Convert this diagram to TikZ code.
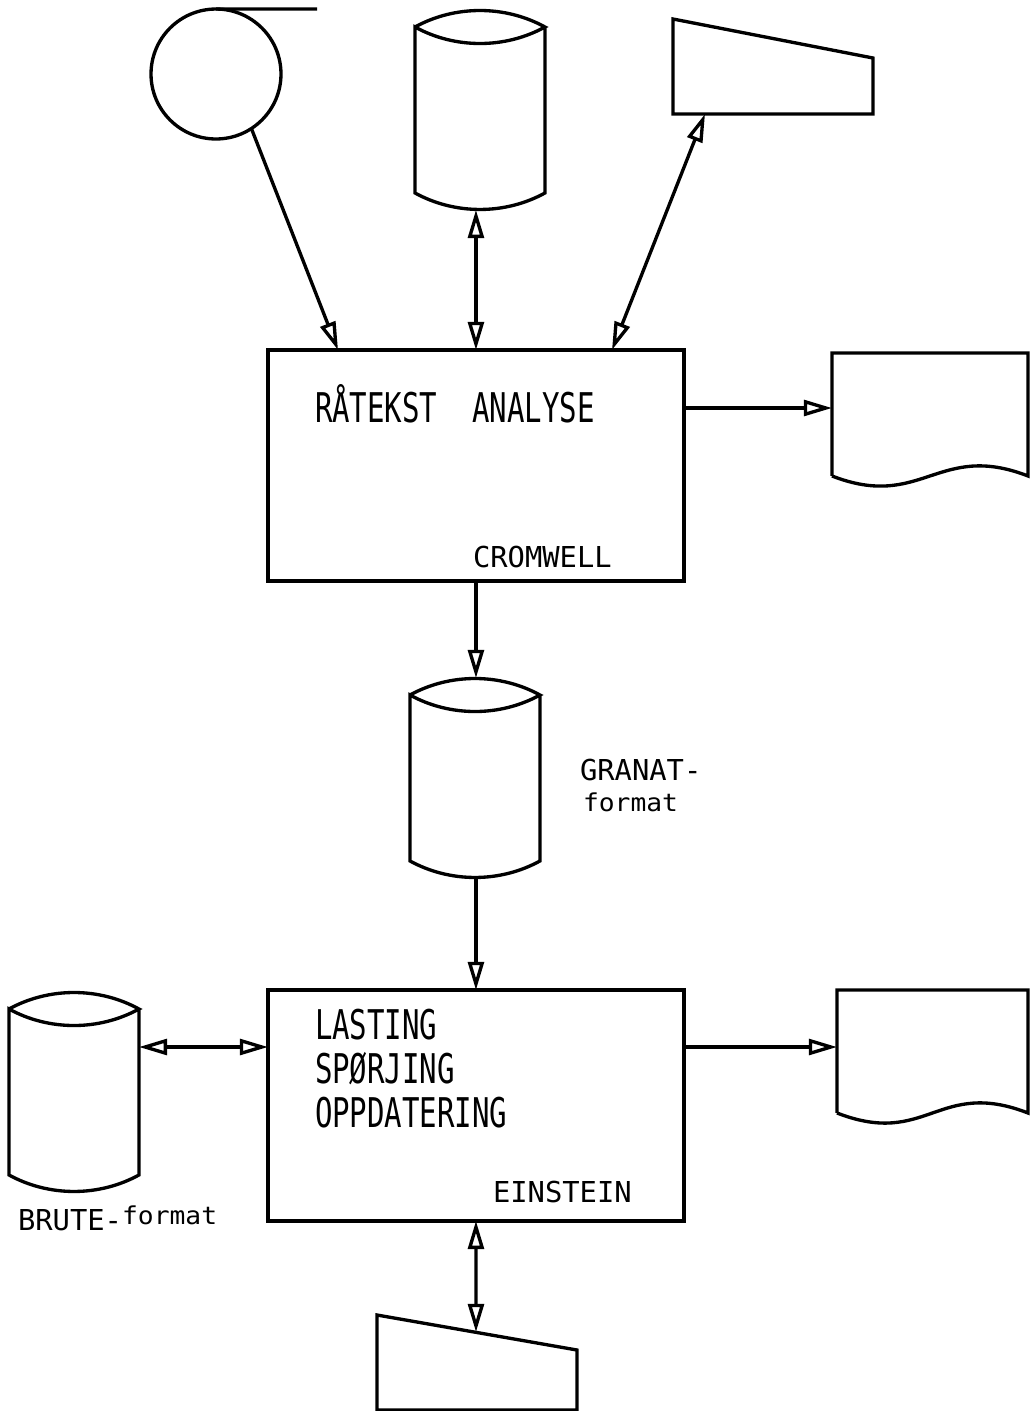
\documentclass[tikz,border=0pt]{standalone}
\usepackage{fontspec}
\usetikzlibrary{arrows.meta,calc}
\newfontfamily\printfont{DejaVu Sans Mono}
\newfontfamily\printfontnarrow[FakeStretch=0.71]{DejaVu Sans Mono}
\newfontfamily\printfontwide[FakeStretch=1.07]{DejaVu Sans Mono}

\newcommand\drawdisk[1]{%
  \draw ($(#1.north west)+(0,17)$) .. controls +(40,-22) and +(-40,-22) .. ($(#1.north east)+(0,17)$)
        .. controls +(-40,22) and +(40,22) .. ($(#1.north west)+(0,17)$)
        -- ($(#1.south west)+(0,-17)$) .. controls +(40,22) and +(-40,22) .. ($(#1.south east)+(0,-17)$)
        -- ($(#1.north east)+(0,17)$);}
\newcommand\drawterminal[2]{%
  \draw (#1.north west) -- ($(#1.north east)+(0,#2)$) -- (#1.south east) -- (#1.south west) -- cycle;}
\newcommand\drawdocument[1]{%
  \draw (#1.south west) -- (#1.north west) -- (#1.north east) -- (#1.south east)
        .. controls +(-90,-35) and +(90,35) .. (#1.south west);}

\begin{document}
\begin{tikzpicture}[
   x=0.02cm, y=-0.02cm,
   line width=1.9pt,
   >={Triangle[open,length=16pt,width=9pt]},
   every node/.style={inner sep=0pt, outer sep=0pt},
   program/.style={draw, minimum width=8.32cm, minimum height=4.62cm, anchor=north west},
   disk/.style={minimum width=2.6cm, minimum height=4cm, anchor=north west},
   terminal/.style={minimum width=4cm, minimum height=1.9cm, anchor=north west},
   listing/.style={minimum width=#1, minimum height=2.46cm, anchor=north west},
   bigtext/.style={font=\printfontnarrow\fontsize{23.3}{25}\selectfont},
   smalltext/.style={font=\printfont\fontsize{16.4}{18}\selectfont},
   lowtext/.style={font=\printfontwide\fontsize{14}{16}\selectfont}]

\useasboundingbox (0,0) rectangle (1030,1411);

\node[program] (cromwell) at (268,350) {};
\node[program] (einstein) at (268,990) {};

\node[draw, circle, minimum size=2.6cm] (tape) at (216,74) {};
\coordinate (tapeend) at (317,9);
\node[disk] (disk1) at (415,10) {};
\node[terminal] (term1) at (673,19) {};
\node[listing=3.92cm] (doc1) at (832,353) {};
\node[disk] (disk2) at (410,678) {};
\node[disk] (disk3) at (9,992) {};
\node[listing=3.82cm] (doc2) at (837,990) {};
\node[terminal] (term2) at (377,1315) {};

\draw (tape.north) -- (tapeend);
\drawdisk{disk1}
\drawdisk{disk2}
\drawdisk{disk3}
\drawterminal{term1}{39}
\drawterminal{term2}{35}
\drawdocument{doc1}
\drawdocument{doc2}

\coordinate (c1a) at ($(cromwell.north west)+(70,0)$);
\coordinate (c1c) at ($(cromwell.north west)+(344,0)$);
\coordinate (c1e) at ($(cromwell.north east)+(0,58)$);
\coordinate (t1a) at ($(term1.south west)+(32,0)$);
\coordinate (e1w) at ($(einstein.north west)+(0,57)$);
\coordinate (e1e) at ($(einstein.north east)+(0,57)$);
\coordinate (t2a) at ($(term2.north west)+(99,17)$);

\draw[->] (tape.-57) -- (c1a);
\draw[<->] (disk1.south -| cromwell.north) -- (cromwell.north);
\draw[<->] (c1c) -- (t1a);
\draw[->] (c1e) -- (doc1.west |- c1e);
\draw[->] (cromwell.south) -- (disk2.north -| cromwell.south);
\draw[->] (disk2.south -| einstein.north) -- (einstein.north);
\draw[<->] (disk3.east |- e1w) -- (e1w);
\draw[->] (e1e) -- (doc2.west |- e1e);
\draw[<->] (einstein.south) -- (t2a);

\node[bigtext, anchor=base west] (raatekst) at (315,422) {RÅTEKST\ \ ANALYSE};
\node[smalltext, anchor=base west] (cromwelltag) at (473,567) {CROMWELL};
\node[smalltext, anchor=base west] (granat) at (580,780) {GRANAT-};
\node[lowtext, anchor=base west] (granatfmt) at (583,811) {format};
\node[bigtext, anchor=base west, align=left] (einsteintasks) at (315,1127) {LASTING\\SPØRJING\\OPPDATERING};
\node[smalltext, anchor=base west] (einsteintag) at (493,1202) {EINSTEIN};
\node[smalltext, anchor=base west] (brute) at (18,1230) {BRUTE-\raisebox{3.4pt}{\printfontwide\fontsize{14}{16}\selectfont format}};

\end{tikzpicture}
\end{document}
